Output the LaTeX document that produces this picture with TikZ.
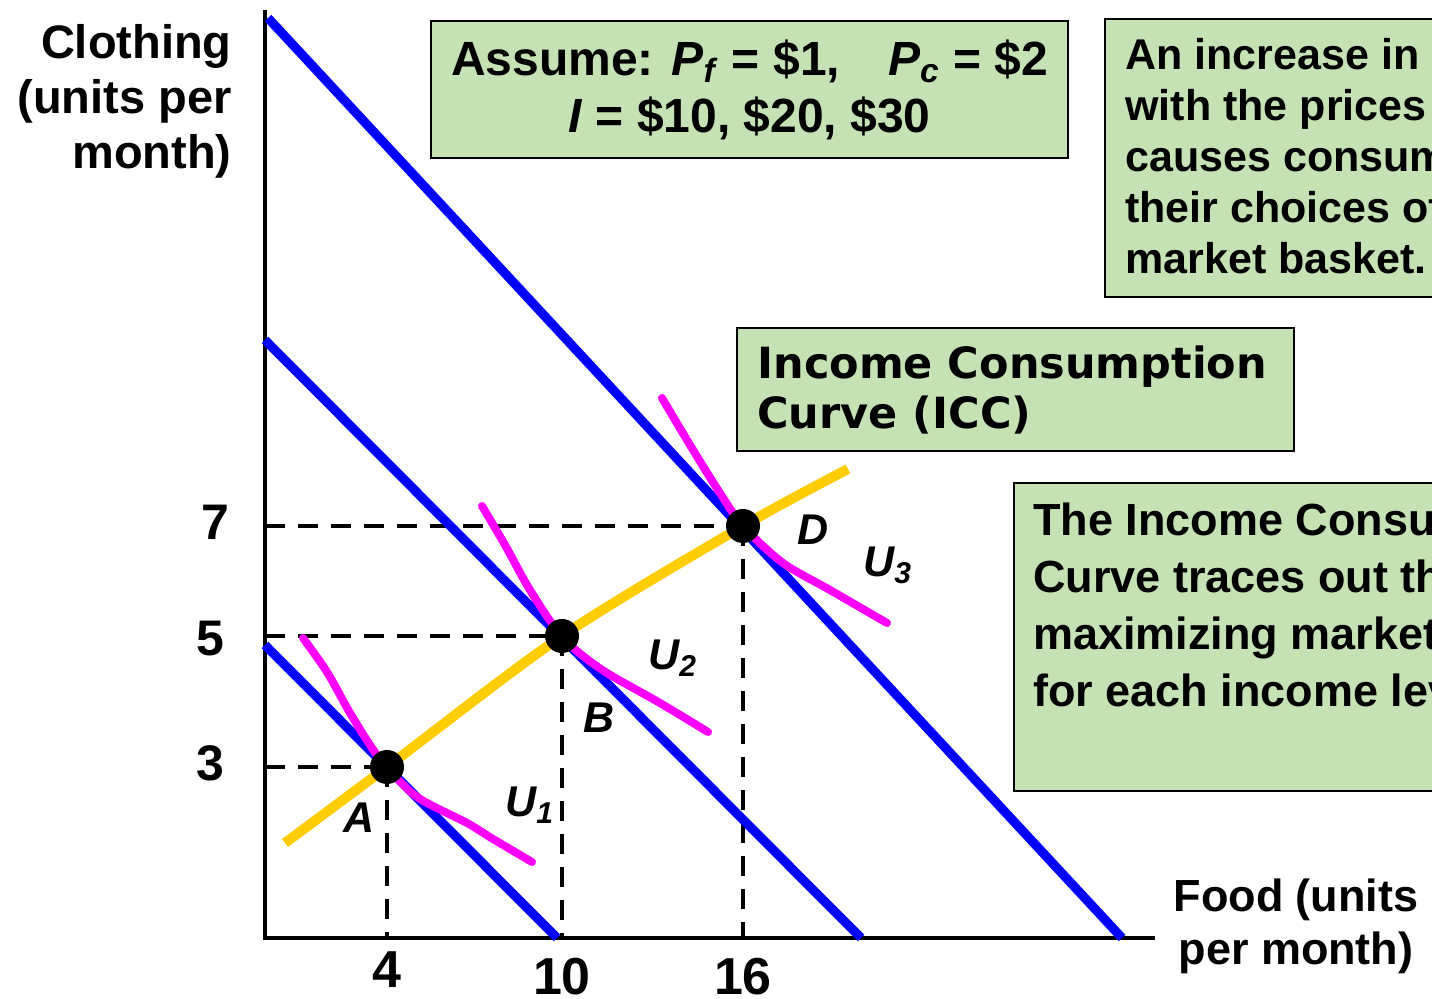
\documentclass[tikz,border=0pt]{standalone}
\usepackage{fontspec}
\setmainfont{Liberation Sans}
\newfontfamily\iccfont{DejaVu Sans}
\usetikzlibrary{positioning}
\definecolor{notegreen}{RGB}{197,226,181}
\definecolor{iccgold}{RGB}{255,204,0}
\definecolor{budgetblue}{RGB}{0,0,255}
\definecolor{indiffpink}{RGB}{255,0,255}

\begin{document}
\begin{tikzpicture}[x=0.5pt, y=-0.5pt,
    axis/.style={line width=2pt},
    budget/.style={budgetblue, line width=4.6pt},
    indiff/.style={indiffpink, line width=4pt, line cap=round},
    icc/.style={iccgold, line width=5pt},
    guide/.style={line width=2pt, dash pattern=on 10pt off 6.5pt},
    dot/.style={circle, fill=black, inner sep=0pt, minimum size=17pt},
    notebox/.style={draw, line width=1.2pt, fill=notegreen, inner sep=0pt},
    notetext/.style={inner sep=0pt, align=left, font=\bfseries\fontsize{21.5}{25.5}\selectfont},
    axislabel/.style={inner sep=0pt, font=\bfseries\fontsize{23.5}{27.5}\selectfont},
    ticklabel/.style={inner sep=0pt, font=\bfseries\fontsize{25}{25}\selectfont},
    ptlabel/.style={inner sep=0pt, anchor=base west, font=\bfseries\itshape\fontsize{21.5}{21.5}\selectfont}
  ]

  \useasboundingbox (0,0) rectangle (1432,999);
  \clip (0,0) rectangle (1432,999);

  % axes
  \coordinate (O) at (265,938);
  \coordinate (ytop) at (265,10);
  \coordinate (xend) at (1155,938);
  \draw[axis] (ytop) -- (O) -- (xend);

  % optimal baskets
  \coordinate (pA) at (387,767);
  \coordinate (pB) at (562,636);
  \coordinate (pD) at (743,526);

  \foreach \p in {pA,pB,pD} {
    \draw[guide] (O |- \p) -- (\p);
    \draw[guide] (\p) -- (\p |- O);
  }

  % budget lines for I = 10, 20, 30
  \coordinate (c1) at (265,645);  \coordinate (f1) at (557,938);
  \coordinate (c2) at (265,340);  \coordinate (f2) at (861,938);
  \coordinate (c3) at (268,18);   \coordinate (f3) at (1122,938);
  \foreach \i in {1,2,3}
    \draw[budget] (c\i) -- (f\i);

  % indifference curves
  \draw[indiff] plot[smooth] coordinates {(303,638) (327,672) (350,713) (372,748) (pA) (417,797) (467,823) (493,839) (532,862)};
  \draw[indiff] plot[smooth] coordinates {(482,506) (505,545) (527,585) (548,618) (pB) (578,652) (607,673) (660,703) (708,732)};
  \draw[indiff] plot[smooth] coordinates {(662,398) (690,445) (718,490) (pD) (783,563) (830,590) (887,623)};

  % income consumption curve
  \draw[icc] plot[smooth] coordinates {(285,843) (pA) (pB) (pD) (848,469)};

  \node[dot] (A) at (pA) {};
  \node[dot] (B) at (pB) {};
  \node[dot] (D) at (pD) {};

  \node[ptlabel] (labA) at (343,833) {A};
  \node[ptlabel] (labB) at (583,733) {B};
  \node[ptlabel] (labD) at (797,545) {D};
  \node[ptlabel] (labU1) at (505,817) {U\textsubscript{1}};
  \node[ptlabel] (labU2) at (648,670) {U\textsubscript{2}};
  \node[ptlabel] (labU3) at (863,577) {U\textsubscript{3}};

  % axis labels and ticks
  \node[axislabel, anchor=north east, align=right] (ylab) at (232,24) {Clothing\\(units per\\month)};
  \node[axislabel, anchor=north, align=center, font=\bfseries\fontsize{22.5}{26.5}\selectfont] (xlab) at (1296,878) {Food (units\\ per month)};

  \node[ticklabel, anchor=base east] (t7) at (230,540) {7};
  \node[ticklabel, anchor=base east] (t5) at (225,656) {5};
  \node[ticklabel, anchor=base east] (t3) at (225,781) {3};
  \node[ticklabel, anchor=base, font=\bfseries\fontsize{26}{26}\selectfont] (t4) at (387,988) {4};
  \node[ticklabel, anchor=base, font=\bfseries\fontsize{26}{26}\selectfont] (t10) at (562,995) {10};
  \node[ticklabel, anchor=base, font=\bfseries\fontsize{26}{26}\selectfont] (t16) at (743,995) {16};

  % ---- note boxes ----
  \node[notebox, minimum width=318.5pt, minimum height=68.5pt, align=center,
        font=\bfseries\fontsize{24}{28.5}\selectfont] (assume) at (749.5,89.5)
    {Assume: \textit{P}\textsubscript{\textit{f}} = \$1,\quad \textit{P}\textsubscript{\textit{c}} = \$2\\
     \textit{I} = \$10, \$20, \$30};

  \node[notebox, anchor=north west, minimum width=200pt, minimum height=139pt] (effect) at (1104,18) {};
  \node[notetext, below right=10pt and 10.5pt of effect.north west] (efftext)
    {An increase in income,\\with the prices fixed,\\causes consumers to\\their choices of\\market basket.};

  \node[notebox, anchor=north west, minimum width=278.5pt, minimum height=61.5pt] (icclabel) at (736,327) {};
  \node[notetext, below right=9pt and 10.5pt of icclabel.north west, font=\iccfont\bfseries\fontsize{21.5}{25}\selectfont] (icctext)
    {Income Consumption\\Curve (ICC)};

  \node[notebox, anchor=north west, minimum width=250pt, minimum height=154pt] (summary) at (1013,482) {};
  \node[notetext, below right=10pt and 10pt of summary.north west, font=\bfseries\fontsize{22.5}{28.5}\selectfont] (sumtext)
    {The Income Consumption\\Curve traces out the\\maximizing market\\for each income level};

\end{tikzpicture}
\end{document}
